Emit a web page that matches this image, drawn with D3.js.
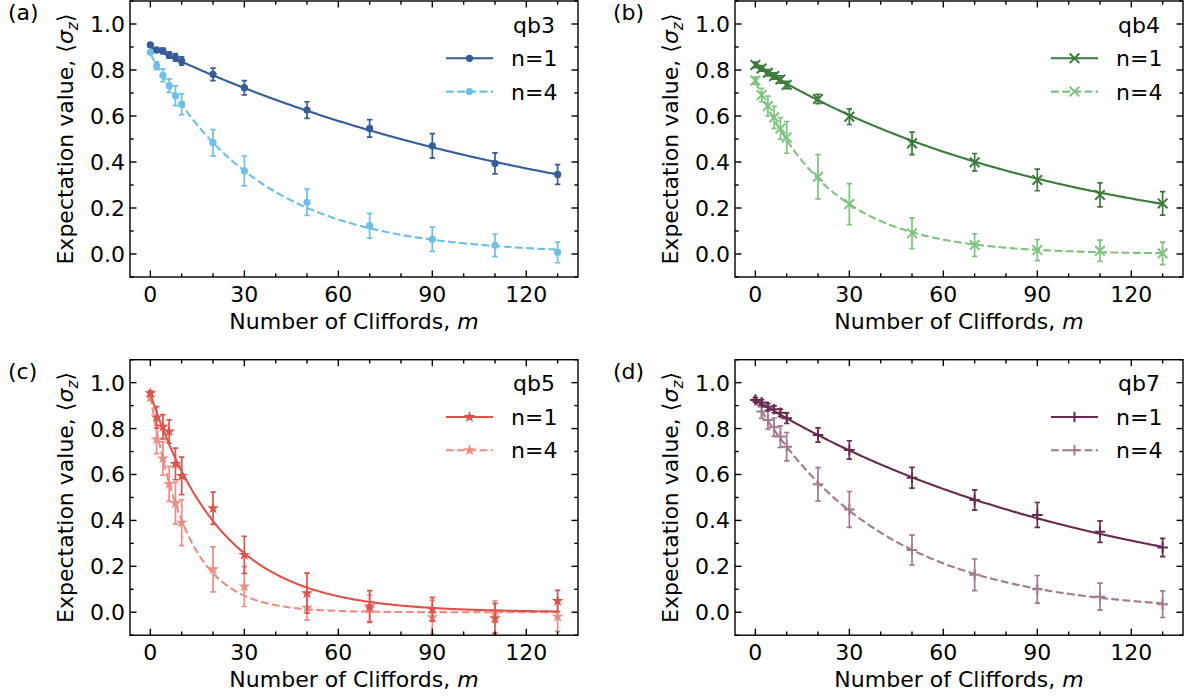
<!DOCTYPE html>
<html><head><meta charset="utf-8">
<script src="https://cdn.jsdelivr.net/npm/d3@7"></script>
<style>body{margin:0;background:#fff} text{font-family:"DejaVu Sans",sans-serif;fill:#000}</style>
</head><body><svg id="c" width="1191" height="696"></svg>
<script>
// ---- data ----
const cliffords = [0,2,4,6,8,10,20,30,50,70,90,110,130];
const xTicks = [0,30,60,90,120];
const yTicks = [0.0,0.2,0.4,0.6,0.8,1.0];
const panelLabels = ["(a)","(b)","(c)","(d)"];
const qubitNames = ["qb3","qb4","qb5","qb7"];
const seriesNames = ["n=1","n=4"];

const qb3_n1     = [0.909,0.887,0.883,0.865,0.855,0.839,0.781,0.723,0.626,0.546,0.470,0.394,0.346];
const qb3_n1_err = [0.008,0.010,0.012,0.014,0.016,0.018,0.027,0.031,0.036,0.038,0.053,0.046,0.043];
const qb3_n4     = [0.877,0.819,0.777,0.732,0.688,0.651,0.484,0.361,0.225,0.123,0.064,0.038,0.007];
const qb3_n4_err = [0.008,0.016,0.028,0.029,0.043,0.045,0.057,0.065,0.057,0.054,0.053,0.049,0.045];

const qb4_n1     = [0.822,0.807,0.788,0.774,0.759,0.735,0.674,0.597,0.481,0.399,0.322,0.257,0.220];
const qb4_n1_err = [0.012,0.012,0.014,0.014,0.016,0.016,0.020,0.034,0.049,0.038,0.047,0.052,0.051];
const qb4_n4     = [0.754,0.691,0.643,0.594,0.546,0.507,0.336,0.217,0.090,0.039,0.017,0.014,0.003];
const qb4_n4_err = [0.015,0.029,0.043,0.048,0.047,0.069,0.096,0.089,0.067,0.049,0.046,0.046,0.049];

const qb5_n1     = [0.954,0.849,0.808,0.787,0.646,0.594,0.453,0.250,0.083,0.025,0.013,-0.026,0.049];
const qb5_n1_err = [0.010,0.047,0.053,0.051,0.069,0.082,0.070,0.081,0.087,0.069,0.052,0.065,0.046];
const qb5_n4     = [0.936,0.753,0.670,0.559,0.475,0.390,0.187,0.112,0.020,0.017,-0.022,0.003,-0.019];
const qb5_n4_err = [0.012,0.062,0.073,0.076,0.091,0.100,0.098,0.087,0.054,0.058,0.074,0.047,0.064];

const qb7_n1     = [0.925,0.914,0.895,0.884,0.869,0.845,0.772,0.707,0.586,0.489,0.424,0.351,0.282];
const qb7_n1_err = [0.010,0.012,0.014,0.015,0.016,0.023,0.031,0.040,0.045,0.044,0.054,0.047,0.040];
const qb7_n4     = [0.925,0.874,0.837,0.806,0.765,0.721,0.557,0.448,0.271,0.163,0.100,0.068,0.035];
const qb7_n4_err = [0.010,0.029,0.040,0.040,0.047,0.062,0.073,0.078,0.065,0.069,0.060,0.059,0.058];

// fitted decay parameters [amplitude, decay rate per Clifford, offset]
const qb3_fit = [[0.900,0.00736,0],[0.870,0.0293,0]];
const qb4_fit = [[0.820,0.0102,0],[0.750,0.0414,0]];
const qb5_fit = [[0.950,0.0436,0],[0.940,0.0855,0]];
const qb7_fit = [[0.925,0.00906,0],[0.920,0.0244,0]];

const colors = [["#355c9b","#6cc0ea"],["#3b7b3b","#7ec47e"],["#e0534b","#f08c84"],["#6a2a50","#a27a92"]];
const markers = ["circle","x","star","plus"];

const panelData = [
  {vals:[qb3_n1,qb3_n4], errs:[qb3_n1_err,qb3_n4_err], fit:qb3_fit},
  {vals:[qb4_n1,qb4_n4], errs:[qb4_n1_err,qb4_n4_err], fit:qb4_fit},
  {vals:[qb5_n1,qb5_n4], errs:[qb5_n1_err,qb5_n4_err], fit:qb5_fit},
  {vals:[qb7_n1,qb7_n4], errs:[qb7_n1_err,qb7_n4_err], fit:qb7_fit}
];

// ---- layout ----
const boxes = [
  {x0:130,x1:578,y0:1,y1:277},
  {x0:735,x1:1183,y0:1,y1:277},
  {x0:130,x1:578,y0:359.7,y1:635.2},
  {x0:735,x1:1183,y0:359.7,y1:635.2}
];
const svg = d3.select("#c");
const FS = 22;
const LW = 2.1;

function drawMarker(g, type, x, y, color){
  if(type==="circle"){
    g.append("circle").attr("cx",x).attr("cy",y).attr("r",3.6).attr("fill",color);
  } else if(type==="x"){
    const s=4.8;
    g.append("path").attr("d",`M${x-s},${y-s}L${x+s},${y+s}M${x-s},${y+s}L${x+s},${y-s}`)
      .attr("stroke",color).attr("stroke-width",2).attr("fill","none");
  } else if(type==="plus"){
    const s=5.3;
    g.append("path").attr("d",`M${x-s},${y}L${x+s},${y}M${x},${y-s}L${x},${y+s}`)
      .attr("stroke",color).attr("stroke-width",2).attr("fill","none");
  } else {
    g.append("path").attr("d",d3.symbol(d3.symbolStar,44)()).attr("transform",`translate(${x},${y})`)
      .attr("fill",color);
  }
}

boxes.forEach((b,pi)=>{
  const x = d3.scaleLinear().domain([-6.5,136.5]).range([b.x0,b.x1]);
  const y = d3.scaleLinear().domain([-0.1,1.1]).range([b.y1,b.y0]);
  const g = svg.append("g");
  const clipId = "clip"+pi;
  svg.append("clipPath").attr("id",clipId).append("rect")
    .attr("x",b.x0).attr("y",b.y0).attr("width",b.x1-b.x0).attr("height",b.y1-b.y0);
  const pd = panelData[pi];
  const dg = g.append("g").attr("clip-path",`url(#${clipId})`);
  const mFine = d3.range(0,130.01,0.5);
  [1,0].forEach(si=>{
    const col = colors[pi][si];
    const f = pd.fit[si];
    const line = d3.line().x(m=>x(m)).y(m=>y(f[0]*Math.exp(-f[1]*m)+f[2]));
    dg.append("path").datum(mFine).attr("d",line).attr("fill","none")
      .attr("stroke",col).attr("stroke-width",LW)
      .attr("stroke-dasharray",si===1?"7.8,3.4":null);
    cliffords.forEach((m,i)=>{
      const v = pd.vals[si][i], e = pd.errs[si][i];
      const cx = x(m);
      dg.append("path").attr("d",`M${cx},${y(v-e)}L${cx},${y(v+e)}M${cx-2.7},${y(v-e)}L${cx+2.7},${y(v-e)}M${cx-2.7},${y(v+e)}L${cx+2.7},${y(v+e)}`)
        .attr("stroke",col).attr("stroke-width",1.7).attr("fill","none");
      drawMarker(dg, markers[pi], cx, y(v), col);
    });
  });

  // axes
  const ag = g.append("g").attr("stroke","#000").attr("stroke-width",1.4);
  const majL=6.5, minL=3.7;
  xTicks.forEach(t=>{
    const px=x(t);
    ag.append("line").attr("x1",px).attr("x2",px).attr("y1",b.y1).attr("y2",b.y1-majL);
    ag.append("line").attr("x1",px).attr("x2",px).attr("y1",b.y0).attr("y2",b.y0+majL);
    g.append("text").attr("x",px).attr("y",b.y1+24.5).attr("text-anchor","middle").attr("font-size",FS).text(t);
  });
  d3.range(-10,140,10).filter(t=>t%30!==0 && t>-6.5 && t<136.5).forEach(t=>{
    const px=x(t);
    ag.append("line").attr("x1",px).attr("x2",px).attr("y1",b.y1).attr("y2",b.y1-minL);
    ag.append("line").attr("x1",px).attr("x2",px).attr("y1",b.y0).attr("y2",b.y0+minL);
  });
  yTicks.forEach(t=>{
    const py=y(t);
    ag.append("line").attr("x1",b.x0).attr("x2",b.x0+majL).attr("y1",py).attr("y2",py);
    ag.append("line").attr("x1",b.x1).attr("x2",b.x1-majL).attr("y1",py).attr("y2",py);
    g.append("text").attr("x",b.x0-5).attr("y",py+8).attr("text-anchor","end").attr("font-size",FS).text(t.toFixed(1));
  });
  [-0.1,0.1,0.3,0.5,0.7,0.9,1.1].forEach(t=>{
    const py=y(t);
    ag.append("line").attr("x1",b.x0).attr("x2",b.x0+minL).attr("y1",py).attr("y2",py);
    ag.append("line").attr("x1",b.x1).attr("x2",b.x1-minL).attr("y1",py).attr("y2",py);
  });
  ag.append("rect").attr("x",b.x0).attr("y",b.y0).attr("width",b.x1-b.x0).attr("height",b.y1-b.y0).attr("fill","none");

  // labels
  g.append("text").attr("x",(b.x0+b.x1)/2).attr("y",b.y1+52).attr("text-anchor","middle").attr("font-size",FS)
    .html('Number of Cliffords, <tspan font-style="italic">m</tspan>');
  const yl = g.append("text").attr("transform",`translate(${b.x0-57},${(b.y0+b.y1)/2}) rotate(-90)`)
    .attr("text-anchor","middle").attr("font-size",FS);
  yl.append("tspan").text("Expectation value, \u27E8");
  yl.append("tspan").attr("font-style","italic").text("\u03C3");
  yl.append("tspan").attr("font-style","italic").attr("font-size",FS*0.7).attr("dy",4.5).text("z");
  yl.append("tspan").attr("dy",-4.5).text("\u27E9");
  g.append("text").attr("x",b.x0-122).attr("y",b.y0+19).attr("font-size",FS).text(panelLabels[pi]);

  // legend
  g.append("text").attr("x",b.x1-23).attr("y",b.y0+31.5).attr("text-anchor","end").attr("font-size",FS).text(qubitNames[pi]);
  seriesNames.forEach((s,si)=>{
    const ly = b.y0+57.3+si*33.3;
    const col = colors[pi][si];
    g.append("line").attr("x1",b.x1-132).attr("x2",b.x1-85).attr("y1",ly).attr("y2",ly)
      .attr("stroke",col).attr("stroke-width",LW).attr("stroke-dasharray",si===1?"7.8,3.4":null);
    drawMarker(g, markers[pi], b.x1-108.5, ly, col);
    g.append("text").attr("x",b.x1-67).attr("y",ly+8).attr("font-size",FS).text(s);
  });
});
</script></body></html>
